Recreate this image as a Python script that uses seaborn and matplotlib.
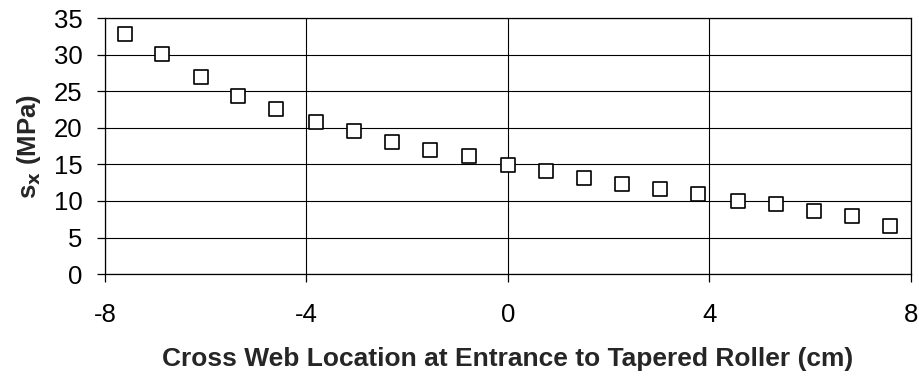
import matplotlib
matplotlib.use("Agg")
import matplotlib.pyplot as plt
import seaborn as sns
import pandas as pd

# Данные
location_cm = [-7.61, -6.86, -6.10, -5.35, -4.60, -3.81, -3.06, -2.30, -1.54, -0.78,
               0.0, 0.76, 1.51, 2.27, 3.02, 3.78, 4.57, 5.32, 6.08, 6.83, 7.59]
stress_mpa = [32.8, 30.05, 26.9, 24.4, 22.6, 20.8, 19.5, 18.1, 17.0, 16.1,
              14.95, 14.1, 13.2, 12.3, 11.6, 10.9, 10.0, 9.6, 8.6, 8.0, 6.6]
x_ticks = [-8, -4, 0, 4, 8]
y_ticks = [0, 5, 10, 15, 20, 25, 30, 35]

df = pd.DataFrame({'x': location_cm, 'y': stress_mpa})

sns.set_style('white', {'xtick.bottom': True, 'ytick.left': True})
plt.rcParams['font.family'] = ['Liberation Sans', 'DejaVu Sans']
plt.rcParams['axes.unicode_minus'] = False

fig = plt.figure(figsize=(9.2, 3.76), dpi=100)
ax = fig.add_axes([0.114, 0.271, 0.876, 0.681])

sns.scatterplot(data=df, x='x', y='y', ax=ax, marker='s', s=95,
                facecolor='white', edgecolor='black', linewidth=1.2, zorder=3)

ax.set_xlim(-8, 8)
ax.set_ylim(0, 35)
ax.set_xticks(x_ticks)
ax.set_yticks(y_ticks)
ax.grid(True, color='black', linewidth=0.8)
for sp in ax.spines.values():
    sp.set_color('black')
    sp.set_linewidth(0.9)

ax.tick_params(axis='both', labelsize=18.5, colors='black', direction='out', width=0.9)
ax.tick_params(axis='x', length=6, pad=15)
ax.tick_params(axis='y', length=6, pad=10)

ax.set_xlabel("Cross Web Location at Entrance to Tapered Roller (cm)",
              fontsize=19, fontweight='bold', labelpad=14)
ax.set_ylabel(r"s$_{\mathbf{x}}$ (MPa)", fontsize=18.5, fontweight='bold', labelpad=8)

plt.savefig('out.png', dpi=100)
